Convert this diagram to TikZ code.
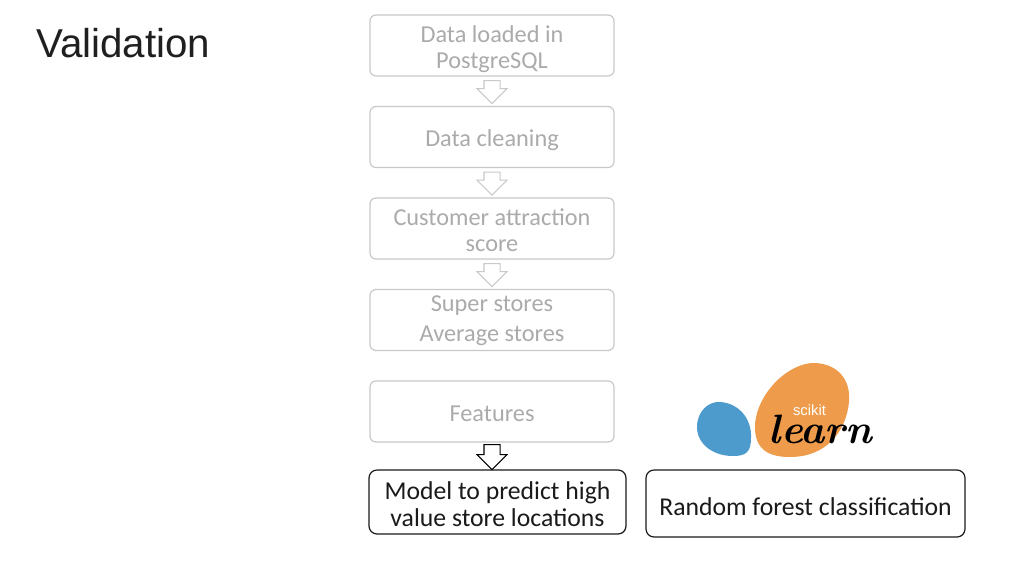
\documentclass[tikz,border=0pt]{standalone}
\usepackage{fontspec}
\setmainfont{Carlito}
\newfontfamily\titlefont{Liberation Sans}
\newfontfamily\logofont{Latin Modern Roman}
\usetikzlibrary{shapes.arrows,calc}
\definecolor{fadeline}{HTML}{C9C9C9}
\definecolor{fadetext}{HTML}{ABABAB}
\definecolor{inkline}{HTML}{1A1A1A}
\definecolor{skorange}{HTML}{EE9C4B}
\definecolor{skblue}{HTML}{4C9BCC}
\newcommand{\shaftgap}{\rule{0pt}{15pt}}
\newcommand{\lifted}[2]{\raisebox{#1}[\height][\depth]{\begin{tabular}{@{}c@{}}#2\end{tabular}}}
\tikzset{
  x=1pt,y=-1pt,
  stage/.style={draw=fadeline,line width=1.2pt,rounded corners=6pt,minimum width=244pt,minimum height=61pt,
    inner sep=0pt,text=fadetext,font=\fontsize{24.3}{26}\selectfont},
  result/.style={draw=inkline,line width=1.2pt,rounded corners=8pt,inner sep=0pt,text=inkline,
    font=\fontsize{25.7}{27}\selectfont},
  blockarrow/.style={shape=single arrow,draw=#1,line width=1.1pt,fill=white,rotate=-90,minimum height=23pt,
    minimum width=29pt,single arrow head extend=7pt,single arrow head indent=0pt,inner sep=0pt,outer sep=0pt,anchor=tail},
}
\begin{document}
\begin{tikzpicture}
\useasboundingbox (0,0) rectangle (1024,576);
\fill[white] (0,0) rectangle (1024,576);
\node[anchor=base west,inner sep=0pt,font=\titlefont\fontsize{40.3}{44}\selectfont,text=black!88] (title) at (36,57) {Validation};
\node[stage] (s1) at (492,45.5) {\lifted{-5pt}{Data loaded in\\PostgreSQL}};
\node[stage] (s2) at (492,137) {\lifted{-4pt}{Data cleaning}};
\node[stage] (s3) at (492,228.5) {\lifted{-5pt}{Customer attraction\\score}};
\node[stage,font=\fontsize{24.3}{30}\selectfont] (s4) at (492,320) {\lifted{0pt}{Super stores\\Average stores}};
\node[stage] (s5) at (492,411.5) {\lifted{-5pt}{Features}};
\node[result,minimum width=257pt,minimum height=64pt] (model) at (497.5,502) {\lifted{-6pt}{Model to predict high\\value store locations}};
\node[result,minimum width=319pt,minimum height=67pt] (forest) at (805.5,503.5) {\lifted{-7pt}{Random forest classification}};
\node[blockarrow=fadeline] (a1) at ($(s1.south)+(0,4)$) {\shaftgap};
\node[blockarrow=fadeline] (a2) at ($(s2.south)+(0,4)$) {\shaftgap};
\node[blockarrow=fadeline] (a3) at ($(s3.south)+(0,4)$) {\shaftgap};
\node[blockarrow=black,minimum height=25pt] (a4) at ($(s5.south)+(0,2)$) {\shaftgap};
% scikit-learn logo
\fill[skorange] (755,425) .. controls (757,392) and (790,362) .. (815,363)
  .. controls (838,364) and (851,380) .. (849,402)
  .. controls (846,432) and (826,457) .. (790,457)
  .. controls (772,457) and (754,452) .. (755,425) -- cycle;
\fill[skblue] (697,427) .. controls (697,411) and (709,401) .. (720,402)
  .. controls (738,403) and (752,418) .. (751,438)
  .. controls (751,452) and (746,456) .. (733,456)
  .. controls (713,456) and (697,444) .. (697,427) -- cycle;
\node[font=\titlefont\fontsize{14.8}{16}\selectfont,text=white,inner sep=0pt] (sk) at (809.5,410) {scikit};
\node[font=\logofont\fontsize{41}{41}\selectfont\bfseries\itshape,inner sep=0pt,text=black,anchor=base] (lrn) at (820.5,443) {learn};
\end{tikzpicture}
\end{document}
